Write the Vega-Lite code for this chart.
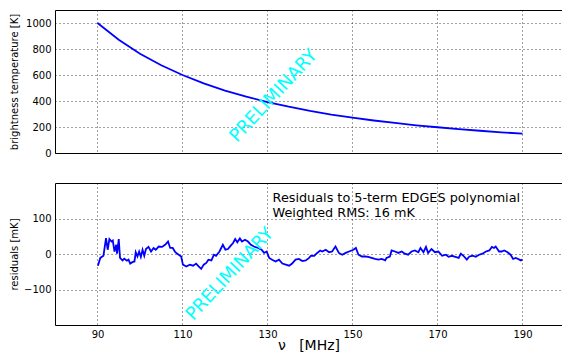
{
  "$schema": "https://vega.github.io/schema/vega-lite/v6.json",
  "padding": {"left": 8, "top": 9, "right": 0, "bottom": 0},
  "spacing": 23,
  "config": {
    "font": "DejaVu Sans",
    "view": {"stroke": "#000", "strokeWidth": 1},
    "axis": {
      "labelFontSize": 10, "titleFontSize": 10, "labelColor": "#000", "titleColor": "#000",
      "titleFontWeight": "normal", "ticks": false, "domain": false, "labelOverlap": false,
      "grid": true, "gridColor": "#000", "gridDash": [1, 3], "gridOpacity": 0.75, "gridWidth": 1,
      "labelPadding": 4, "format": "d"
    }
  },
  "datasets": {
    "temp": [
      {"nu": 90, "T": 1000}, {"nu": 95, "T": 871}, {"nu": 100, "T": 764}, {"nu": 105, "T": 675},
      {"nu": 110, "T": 600}, {"nu": 115, "T": 535}, {"nu": 120, "T": 480}, {"nu": 125, "T": 433},
      {"nu": 130, "T": 392}, {"nu": 135, "T": 356}, {"nu": 140, "T": 324}, {"nu": 145, "T": 296},
      {"nu": 150, "T": 272}, {"nu": 155, "T": 250}, {"nu": 160, "T": 231}, {"nu": 165, "T": 213},
      {"nu": 170, "T": 198}, {"nu": 175, "T": 183}, {"nu": 180, "T": 171}, {"nu": 185, "T": 159},
      {"nu": 190, "T": 149}
    ],
    "resid": [
      {"nu": 90.1, "r": -33}, {"nu": 90.66, "r": -11}, {"nu": 91.4, "r": -5}, {"nu": 92.0, "r": 45},
      {"nu": 92.4, "r": 12}, {"nu": 92.8, "r": 42}, {"nu": 93.3, "r": 35}, {"nu": 93.6, "r": 38},
      {"nu": 94.0, "r": 7}, {"nu": 94.4, "r": 26}, {"nu": 94.6, "r": 1}, {"nu": 95.0, "r": 42},
      {"nu": 95.3, "r": -11}, {"nu": 95.9, "r": -18}, {"nu": 96.3, "r": -13}, {"nu": 96.9, "r": -19},
      {"nu": 97.3, "r": -16}, {"nu": 97.7, "r": -27}, {"nu": 98.2, "r": -23}, {"nu": 98.7, "r": -21},
      {"nu": 99.0, "r": 5}, {"nu": 99.4, "r": -7}, {"nu": 99.8, "r": 7}, {"nu": 100.2, "r": -8},
      {"nu": 100.6, "r": 12}, {"nu": 101.0, "r": -5}, {"nu": 101.4, "r": 14}, {"nu": 102.0, "r": 20},
      {"nu": 102.6, "r": 7}, {"nu": 103.2, "r": 17}, {"nu": 103.7, "r": 12}, {"nu": 104.4, "r": 21},
      {"nu": 105.2, "r": 20}, {"nu": 105.9, "r": 26}, {"nu": 106.6, "r": 35}, {"nu": 107.1, "r": 17},
      {"nu": 107.7, "r": 17}, {"nu": 108.3, "r": 5}, {"nu": 109.1, "r": -2}, {"nu": 109.7, "r": -7},
      {"nu": 110.1, "r": -30}, {"nu": 110.9, "r": -35}, {"nu": 111.7, "r": -30}, {"nu": 112.5, "r": -33},
      {"nu": 113.2, "r": -27}, {"nu": 113.8, "r": -35}, {"nu": 114.4, "r": -42}, {"nu": 115.0, "r": -30},
      {"nu": 115.6, "r": -25}, {"nu": 116.1, "r": -16}, {"nu": 116.8, "r": -18}, {"nu": 117.4, "r": -2},
      {"nu": 117.9, "r": -5}, {"nu": 118.7, "r": 7}, {"nu": 119.5, "r": 26}, {"nu": 120.1, "r": 12},
      {"nu": 120.7, "r": 14}, {"nu": 121.3, "r": 23}, {"nu": 121.9, "r": 31}, {"nu": 122.4, "r": 42},
      {"nu": 122.9, "r": 33}, {"nu": 123.5, "r": 44}, {"nu": 124.0, "r": 35}, {"nu": 124.7, "r": 40},
      {"nu": 125.4, "r": 35}, {"nu": 126.1, "r": 26}, {"nu": 126.8, "r": 21}, {"nu": 127.8, "r": 17},
      {"nu": 128.6, "r": 12}, {"nu": 129.2, "r": 3}, {"nu": 129.8, "r": 7}, {"nu": 130.4, "r": -11},
      {"nu": 131.1, "r": -16}, {"nu": 131.9, "r": -21}, {"nu": 132.7, "r": -16}, {"nu": 133.5, "r": -27},
      {"nu": 134.3, "r": -30}, {"nu": 135.1, "r": -33}, {"nu": 135.8, "r": -27}, {"nu": 136.6, "r": -16},
      {"nu": 137.4, "r": -14}, {"nu": 138.2, "r": -20}, {"nu": 139.0, "r": -18}, {"nu": 139.8, "r": -11},
      {"nu": 140.2, "r": -5}, {"nu": 141.0, "r": -5}, {"nu": 141.7, "r": 3}, {"nu": 142.4, "r": 10},
      {"nu": 142.9, "r": 7}, {"nu": 143.7, "r": 12}, {"nu": 144.5, "r": 5}, {"nu": 145.2, "r": 7},
      {"nu": 146.0, "r": 21}, {"nu": 146.8, "r": 3}, {"nu": 147.6, "r": -2}, {"nu": 148.4, "r": 3},
      {"nu": 149.2, "r": 7}, {"nu": 150.2, "r": 12}, {"nu": 150.8, "r": 17}, {"nu": 151.4, "r": -2},
      {"nu": 152.2, "r": -7}, {"nu": 153.0, "r": -7}, {"nu": 153.7, "r": -8}, {"nu": 154.5, "r": -11},
      {"nu": 155.3, "r": -14}, {"nu": 156.1, "r": -16}, {"nu": 156.9, "r": -14}, {"nu": 157.7, "r": -18},
      {"nu": 158.0, "r": -11}, {"nu": 158.8, "r": -7}, {"nu": 159.2, "r": 10}, {"nu": 160.0, "r": 7},
      {"nu": 160.8, "r": 3}, {"nu": 161.6, "r": 7}, {"nu": 162.3, "r": 1}, {"nu": 163.1, "r": -2},
      {"nu": 163.9, "r": 7}, {"nu": 164.7, "r": 10}, {"nu": 165.5, "r": 5}, {"nu": 166.0, "r": 17},
      {"nu": 166.7, "r": 5}, {"nu": 167.3, "r": 20}, {"nu": 167.8, "r": 3}, {"nu": 168.6, "r": 14},
      {"nu": 169.4, "r": 5}, {"nu": 170.2, "r": 7}, {"nu": 171.1, "r": -5}, {"nu": 172.0, "r": -2},
      {"nu": 172.6, "r": -8}, {"nu": 173.4, "r": -5}, {"nu": 174.2, "r": -8}, {"nu": 175.0, "r": -11},
      {"nu": 175.5, "r": 1}, {"nu": 176.1, "r": -5}, {"nu": 176.9, "r": -16}, {"nu": 177.5, "r": -7},
      {"nu": 178.3, "r": -5}, {"nu": 179.0, "r": -8}, {"nu": 179.8, "r": -2}, {"nu": 180.6, "r": 1},
      {"nu": 181.4, "r": 7}, {"nu": 182.2, "r": 10}, {"nu": 182.8, "r": 20}, {"nu": 183.3, "r": 17},
      {"nu": 183.7, "r": 21}, {"nu": 184.5, "r": 7}, {"nu": 185.1, "r": 7}, {"nu": 185.7, "r": 10},
      {"nu": 186.5, "r": 5}, {"nu": 187.2, "r": -2}, {"nu": 187.8, "r": -14}, {"nu": 188.4, "r": -11},
      {"nu": 189.0, "r": -14}, {"nu": 189.6, "r": -18}, {"nu": 190.0, "r": -16}
    ]
  },
  "vconcat": [
    {
      "width": 507,
      "height": 143,
      "encoding": {
        "x": {"field": "nu", "type": "quantitative", "scale": {"domain": [80, 199.3], "nice": false, "zero": false},
              "axis": {"values": [90, 110, 130, 150, 170, 190], "labels": false, "title": null, "labelPadding": 0, "minExtent": 0, "maxExtent": 0}},
        "y": {"field": "T", "type": "quantitative", "scale": {"domain": [0, 1100], "nice": false},
              "axis": {"values": [0, 200, 400, 600, 800, 1000], "format": "d", "labelOverlap": false, "title": "brightness temperature [K]", "minExtent": 30, "maxExtent": 30, "titlePadding": 6}}
      },
      "layer": [
        {
          "data": {"name": "temp"},
          "mark": {"type": "line", "color": "#0000ff", "strokeWidth": 1.8, "clip": true}
        },
        {
          "data": {"values": [{"nu": 131.5, "T": 438, "label": "PRELIMINARY"}]},
          "mark": {"type": "text", "color": "#00ffff", "fontSize": 18, "angle": -47, "align": "center", "baseline": "middle"},
          "encoding": {"text": {"field": "label"}}
        }
      ]
    },
    {
      "width": 507,
      "height": 142,
      "encoding": {
        "x": {"field": "nu", "type": "quantitative", "scale": {"domain": [80, 199.3], "nice": false, "zero": false},
              "axis": {"values": [90, 110, 130, 150, 170, 190], "format": "d", "title": "ν\u00a0\u00a0\u00a0[MHz]", "titleFontSize": 14, "titlePadding": -1}},
        "y": {"field": "r", "type": "quantitative", "scale": {"domain": [-200, 200], "nice": false},
              "axis": {"values": [-100, 0, 100], "format": "d", "labelOverlap": false, "title": "residuals [mK]", "minExtent": 30, "maxExtent": 30, "titlePadding": 6}}
      },
      "layer": [
        {
          "data": {"name": "resid"},
          "mark": {"type": "line", "color": "#0000ff", "strokeWidth": 1.8, "clip": true}
        },
        {
          "data": {"values": [
            {"nu": 131.2, "r": 158, "label": "Residuals to 5-term EDGES polynomial"},
            {"nu": 131.2, "r": 116, "label": "Weighted RMS: 16 mK"}
          ]},
          "mark": {"type": "text", "color": "#000", "fontSize": 12.8, "align": "left", "baseline": "middle"},
          "encoding": {"text": {"field": "label"}}
        },
        {
          "data": {"values": [{"nu": 121.2, "r": -57, "label": "PRELIMINARY"}]},
          "mark": {"type": "text", "color": "#00ffff", "fontSize": 18, "angle": -47, "align": "center", "baseline": "middle"},
          "encoding": {"text": {"field": "label"}}
        }
      ]
    }
  ]
}
